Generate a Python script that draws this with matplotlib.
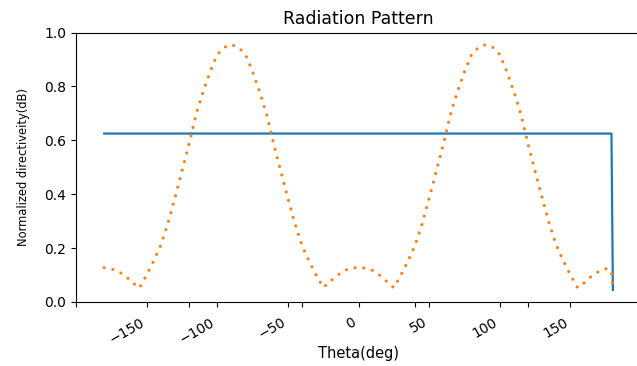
import matplotlib
matplotlib.use("Agg")
import matplotlib.pyplot as plt

# Blue trace (constant level, drops at the last sample)
theta_flat = [-180, 179, 180]
flat_level = [0.625, 0.625, 0.045]

# Orange dotted trace (array pattern)
theta_pattern = [-180, -175, -170, -165, -160, -155, -150, -145, -140, -135,
                 -130, -125, -120, -115, -110, -105, -100, -95, -90, -85,
                 -80, -75, -70, -65, -60, -55, -50, -45, -40, -35,
                 -30, -25, -20, -15, -10, -5, 0, 5, 10, 15,
                 20, 25, 30, 35, 40, 45, 50, 55, 60, 65,
                 70, 75, 80, 85, 90, 95, 100, 105, 110, 115,
                 120, 125, 130, 135, 140, 145, 150, 155, 160, 165,
                 170, 175, 179, 180]
pattern = [0.127, 0.123, 0.113, 0.097, 0.072, 0.052, 0.100, 0.152, 0.210, 0.290,
           0.385, 0.485, 0.585, 0.695, 0.780, 0.855, 0.918, 0.945, 0.955, 0.945,
           0.918, 0.855, 0.780, 0.695, 0.585, 0.485, 0.385, 0.290, 0.210, 0.152,
           0.100, 0.054, 0.076, 0.099, 0.117, 0.125, 0.129, 0.125, 0.117, 0.099,
           0.076, 0.053, 0.100, 0.152, 0.210, 0.290, 0.385, 0.485, 0.585, 0.695,
           0.780, 0.855, 0.918, 0.945, 0.955, 0.945, 0.918, 0.855, 0.780, 0.695,
           0.585, 0.485, 0.385, 0.290, 0.210, 0.152, 0.100, 0.053, 0.072, 0.097,
           0.113, 0.123, 0.115, 0.050]

major_ticks = [-150, -100, -50, 0, 50, 100, 150]
minor_ticks = [-200, -120, -40, 40, 120, 200]

fig = plt.figure(figsize=(6.37, 3.66), dpi=100)
ax = fig.add_axes([0.1192, 0.1749, 0.8873, 0.7363])

ax.plot(theta_flat, flat_level, color="C0", linewidth=1.6)
ax.plot(theta_pattern, pattern, color="C1", linewidth=2.3,
        linestyle=(0, (0.01, 2.75)), dash_capstyle="round")

ax.set_xlim(-200, 200)
ax.set_ylim(0, 1.0)
ax.set_xticks(major_ticks)
ax.set_xticks(minor_ticks, minor=True)
ax.tick_params(axis="x", which="both", length=3.5, width=0.8, pad=6)
plt.setp(ax.get_xticklabels(), rotation=30, ha="right")

ax.set_title("Radiation Pattern", fontsize=12.5)
ax.set_xlabel("Theta(deg)", fontsize=10.5, labelpad=0)
ax.set_ylabel("Normalized directiveity(dB)", fontsize=8.3, labelpad=10)

fig.savefig("out.png", dpi=100)
